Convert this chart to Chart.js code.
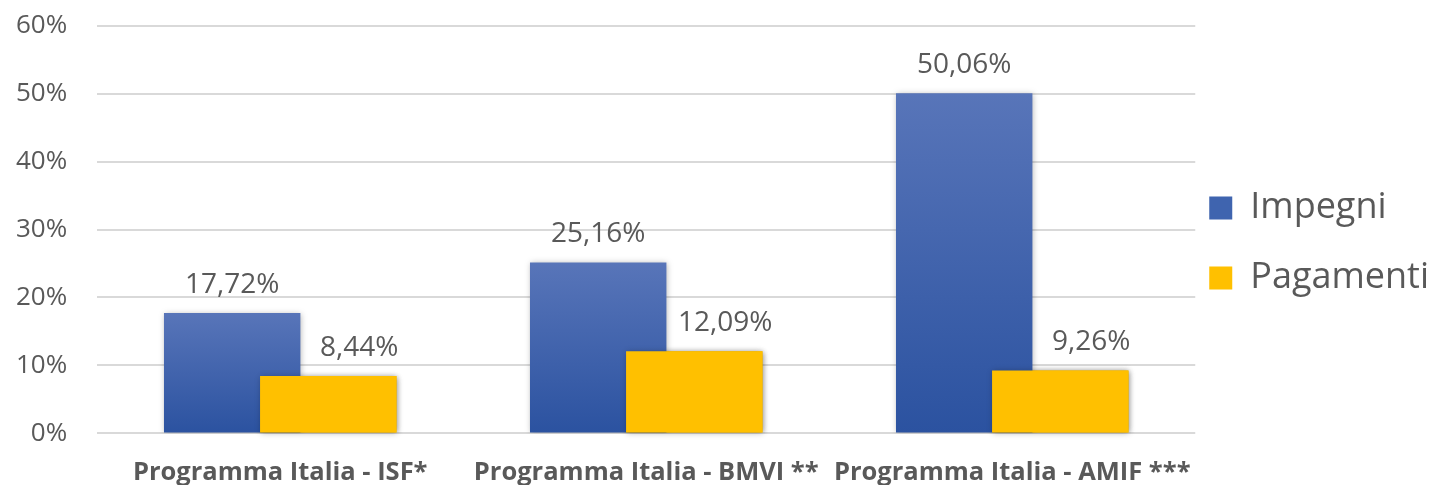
<!DOCTYPE html>
<html><head><meta charset="utf-8">
<script src="https://cdn.jsdelivr.net/npm/chart.js@4/dist/chart.umd.min.js"></script>
<style>
html,body{margin:0;padding:0;background:#fff;overflow:hidden;width:1436px;height:485px;position:relative}
#c{position:absolute;left:-30px;top:-20px}
</style>
</head><body><canvas id="c" width="1497" height="545"></canvas>
<script>
const categories = ['Programma Italia - ISF*', 'Programma Italia - BMVI **', 'Programma Italia - AMIF ***'];
const impegni = [17.72, 25.16, 50.06];
const pagamenti = [8.44, 12.09, 9.26];
const seriesNames = ['Impegni', 'Pagamenti'];
const yTicks = [0, 10, 20, 30, 40, 50, 60];

const TEXT = '#595959';
const FONT = '"Open Sans", "Noto Sans", sans-serif';
const fmt = v => v.toFixed(2).replace('.', ',') + '%';

function blueGradient(ctx) {
  const chart = ctx.chart;
  const y = chart.scales && chart.scales.y;
  if (!y || ctx.type !== 'data' || typeof ctx.raw !== 'number') return '#3f64af';
  const top = y.getPixelForValue(ctx.raw);
  const bottom = y.getPixelForValue(0);
  if (!isFinite(top) || !isFinite(bottom) || top === bottom) return '#3f64af';
  const g = chart.ctx.createLinearGradient(0, top, 0, bottom);
  g.addColorStop(0, '#5875b9');
  g.addColorStop(1, '#2b52a0');
  return g;
}

const overlayPlugin = {
  id: 'overlay',
  afterLayout(chart) {
    const l = chart.legend;
    if (!l) return;
    l.left -= 20; l.right -= 20;
    l.top -= 8; l.bottom -= 8;
  },
  beforeDatasetsDraw(chart) {
    const c = chart.ctx;
    c.save();
    c.shadowColor = 'rgba(0,0,0,0.28)';
    c.shadowBlur = 6;
    c.shadowOffsetX = 1;
    c.shadowOffsetY = 1;
  },
  afterDatasetsDraw(chart) {
    // redraw the second series on top of the first (overlapping bars)
    chart.getDatasetMeta(1).controller.draw();
    chart.ctx.restore();
    const c = chart.ctx;
    c.save();
    c.font = '28px ' + FONT;
    c.fillStyle = TEXT;
    c.textAlign = 'center';
    c.textBaseline = 'alphabetic';
    chart.data.datasets.forEach((ds, di) => {
      const meta = chart.getDatasetMeta(di);
      meta.data.forEach((bar, i) => {
        const dx = di === 1 ? 31 : 0;
        c.fillText(fmt(ds.data[i]), bar.x + dx, bar.y - 20);
      });
    });
    c.restore();
  }
};

new Chart(document.getElementById('c'), {
  type: 'bar',
  data: {
    labels: categories,
    datasets: [
      { label: seriesNames[0], data: impegni, backgroundColor: blueGradient, borderWidth: 0 },
      { label: seriesNames[1], data: pagamenti, backgroundColor: '#ffc000', borderWidth: 0 }
    ]
  },
  options: {
    responsive: false,
    animation: false,
    devicePixelRatio: 1,
    categoryPercentage: 0.525,
    barPercentage: 1.42,
    layout: { padding: { left: 16, right: 8, top: 10, bottom: 13 } },
    scales: {
      x: {
        grid: { display: false, drawTicks: false },
        border: { display: false },
        ticks: {
          color: TEXT, font: { family: FONT, size: 25.5, weight: 'bold' },
          padding: 24, maxRotation: 0, minRotation: 0, autoSkip: false
        }
      },
      y: {
        min: 0, max: 60,
        afterBuildTicks: (axis) => { axis.ticks = yTicks.map(v => ({ value: v })); },
        grid: { color: '#d9d9d9', lineWidth: 2, drawTicks: false },
        border: { display: false },
        ticks: {
          color: TEXT, font: { family: FONT, size: 26 }, padding: 30,
          callback: v => v + '%'
        }
      }
    },
    plugins: {
      tooltip: { enabled: false },
      legend: {
        position: 'right',
        labels: {
          color: TEXT,
          font: { family: FONT, size: 36 },
          boxWidth: 23, boxHeight: 23, padding: 34,
          generateLabels: () => seriesNames.map((n, i) => ({
            text: n,
            fillStyle: i === 0 ? '#3f64af' : '#ffc000',
            strokeStyle: 'rgba(0,0,0,0)',
            lineWidth: 0,
            hidden: false,
            datasetIndex: i,
            fontColor: TEXT
          }))
        }
      }
    }
  },
  plugins: [overlayPlugin]
});
</script>
</body></html>
